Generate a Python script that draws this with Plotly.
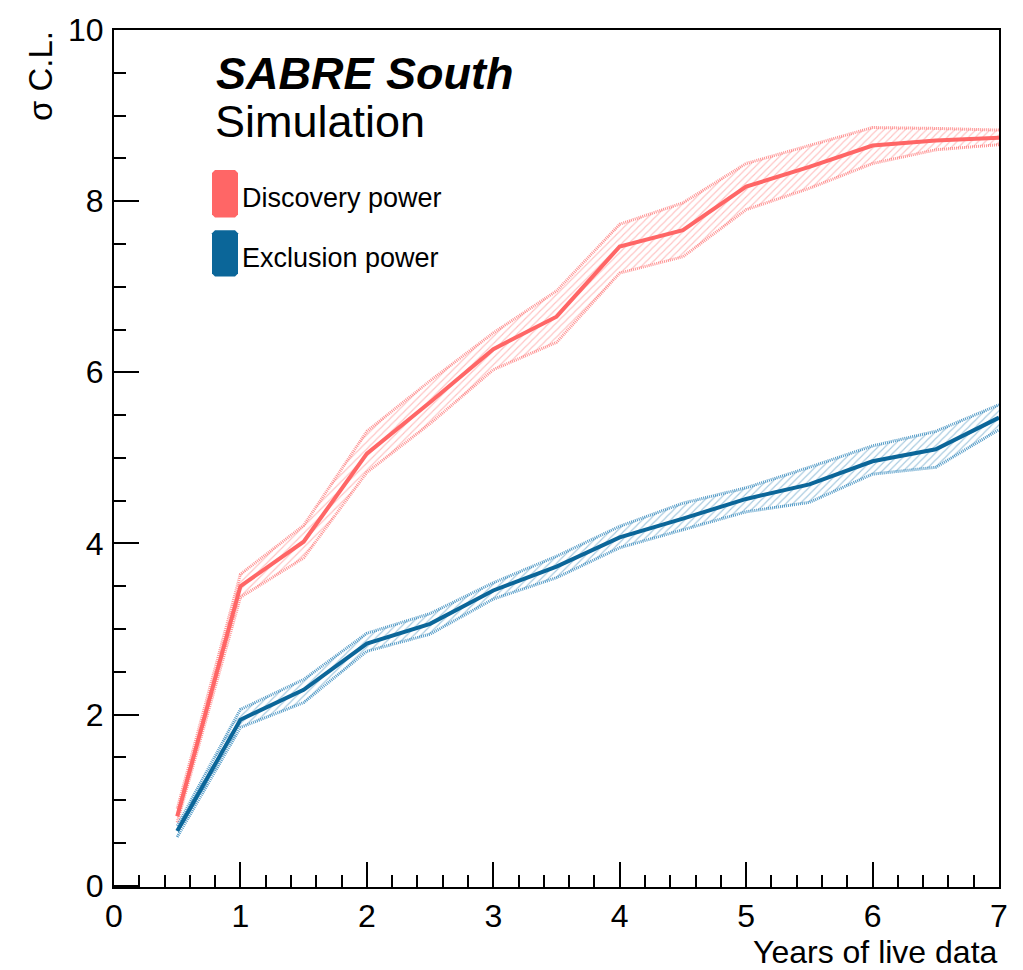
import plotly.graph_objects as go

# Sensitivity versus exposure (years of live data)
years = [0.5, 1.0, 1.5, 2.0, 2.5, 3.0, 3.5, 4.0, 4.5, 5.0, 5.5, 6.0, 6.5, 7.0]

discovery = [0.81, 3.50, 4.02, 5.05, 5.65, 6.27, 6.65, 7.47, 7.66, 8.17, 8.40, 8.65, 8.71, 8.74]
discovery_hi = [0.90, 3.64, 4.21, 5.31, 5.90, 6.46, 6.95, 7.73, 7.98, 8.44, 8.65, 8.86, 8.85, 8.83]
discovery_lo = [0.74, 3.37, 3.83, 4.83, 5.40, 6.03, 6.35, 7.16, 7.35, 7.90, 8.15, 8.44, 8.60, 8.66]

exclusion = [0.64, 1.94, 2.29, 2.83, 3.06, 3.45, 3.73, 4.07, 4.29, 4.52, 4.69, 4.96, 5.10, 5.47]
exclusion_hi = [0.70, 2.06, 2.41, 2.95, 3.18, 3.54, 3.85, 4.20, 4.47, 4.65, 4.89, 5.14, 5.31, 5.62]
exclusion_lo = [0.57, 1.85, 2.14, 2.74, 2.94, 3.35, 3.60, 3.95, 4.16, 4.37, 4.48, 4.81, 4.89, 5.33]

series = [
    ("Discovery power", discovery, discovery_hi, discovery_lo,
     "#ff6666", "rgba(255,110,110,0.85)", "rgba(255,120,120,0.8)"),
    ("Exclusion power", exclusion, exclusion_hi, exclusion_lo,
     "#0b6699", "rgba(30,120,175,0.8)", "rgba(40,130,185,0.8)"),
]

FONT = "Liberation Sans, Arial, Helvetica, sans-serif"
W, H = 1023, 970
ML, MR, MT, MB = 114, 24, 18, 83

fig = go.Figure()

for name, mid, hi, lo, col, hatch, edge in series:
    # hatched uncertainty band
    fig.add_trace(go.Scatter(
        x=years, y=hi, mode="lines",
        line=dict(color=edge, width=3, dash="1px,1px"),
        showlegend=False, hoverinfo="skip"))
    fig.add_trace(go.Scatter(
        x=years, y=lo, mode="lines", fill="tonexty",
        fillcolor="rgba(0,0,0,0)",
        fillpattern=dict(shape="/", size=5, solidity=0.22,
                         fgcolor=hatch, bgcolor="rgba(0,0,0,0)",
                         fillmode="overlay"),
        line=dict(color=edge, width=3, dash="1px,1px"),
        showlegend=False, hoverinfo="skip"))
    # central curve
    fig.add_trace(go.Scatter(
        x=years, y=mid, mode="lines", name=name,
        line=dict(color=col, width=4),
        showlegend=False))


def px_x(p):
    return (p - ML) / (W - ML - MR)


def px_y(p):
    return 1 - (p - MT) / (H - MT - MB)


shapes = []
annotations = []

# legend boxes and labels
legend_items = [("Discovery power", "#ff6666", 160, 208, 188),
                ("Exclusion power", "#0b6699", 221, 268, 249)]
for text, col, top, bot, yc in legend_items:
    x0, x1 = px_x(212), px_x(238)
    y0, y1 = px_y(bot), px_y(top)
    c = 3
    cx = c / (W - ML - MR)
    cy = c / (H - MT - MB)
    path = (f"M {x0+cx},{y0} L {x1-cx},{y0} L {x1},{y0+cy} L {x1},{y1-cy} "
            f"L {x1-cx},{y1} L {x0+cx},{y1} L {x0},{y1-cy} L {x0},{y0+cy} Z")
    shapes.append(dict(type="path", xref="x domain", yref="y domain", path=path,
                       fillcolor=col, line=dict(width=0)))
    annotations.append(dict(text=text, xref="x domain", yref="y domain",
                            x=px_x(240), y=px_y(yc), xanchor="left", yanchor="middle",
                            showarrow=False, font=dict(family=FONT, size=27, color="black")))

annotations.append(dict(text="<b><i>SABRE South</i></b>", xref="x domain", yref="y domain",
                        x=px_x(214), y=px_y(62), xanchor="left", yanchor="middle",
                        showarrow=False, font=dict(family=FONT, size=45, color="black")))
annotations.append(dict(text="Simulation", xref="x domain", yref="y domain",
                        x=px_x(213), y=px_y(111), xanchor="left", yanchor="middle",
                        showarrow=False, font=dict(family=FONT, size=45, color="black")))

# axis titles
annotations.append(dict(text="Years of live data", xref="paper", yref="paper",
                        x=px_x(1000), y=px_y(953), xanchor="right", yanchor="middle",
                        showarrow=False, font=dict(family=FONT, size=32, color="black")))
annotations.append(dict(text="σ C.L.", xref="paper", yref="paper", textangle=-90,
                        x=px_x(40), y=px_y(17), xanchor="center", yanchor="top",
                        showarrow=False, font=dict(family=FONT, size=33, color="black")))

axis_common = dict(
    showgrid=False, zeroline=False, showline=True, linecolor="black", linewidth=2,
    mirror=True, ticks="inside", tickcolor="black", tickwidth=2, ticklen=25,
    tickfont=dict(family=FONT, size=32, color="black"),
)

fig.update_layout(
    width=W, height=H,
    margin=dict(l=ML, r=MR, t=MT, b=MB),
    paper_bgcolor="white", plot_bgcolor="white",
    xaxis=dict(range=[0, 7.0], tick0=0, dtick=1, ticklabelstandoff=0,
               minor=dict(ticks="inside", dtick=0.2, ticklen=12, tickwidth=2,
                          tickcolor="black", showgrid=False),
               **axis_common),
    yaxis=dict(range=[-0.015, 10], tick0=0, dtick=2, ticklabelstandoff=2,
               minor=dict(ticks="inside", dtick=0.5, ticklen=12, tickwidth=2,
                          tickcolor="black", showgrid=False),
               **axis_common),
    shapes=shapes,
    annotations=annotations,
    showlegend=False,
)

fig.write_html("out.html")
